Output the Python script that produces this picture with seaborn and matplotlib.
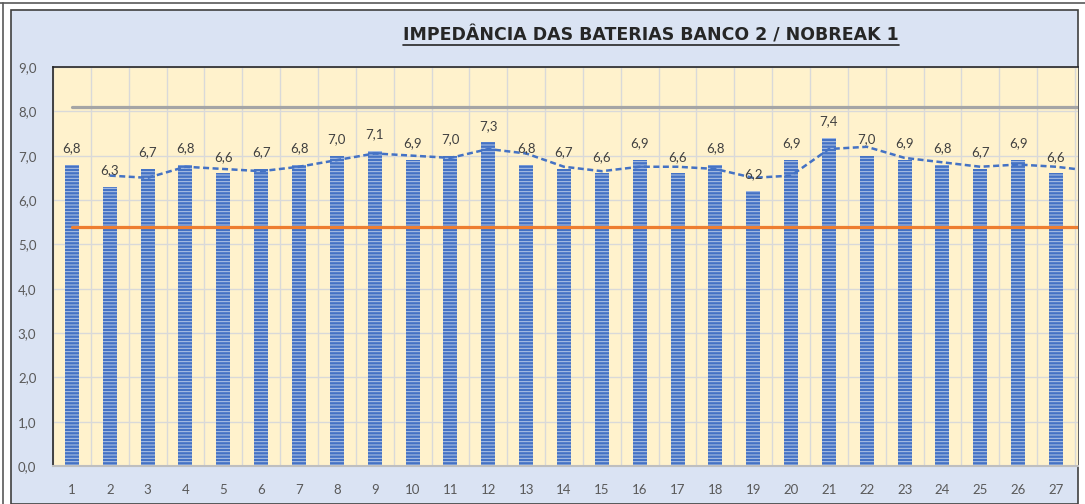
import numpy as np
import pandas as pd
import matplotlib
matplotlib.use("Agg")
import matplotlib.pyplot as plt
import seaborn as sns
from matplotlib.patches import Rectangle
from matplotlib.lines import Line2D

# chart data
baterias = list(range(1, 29))
impedancia = [6.8, 6.3, 6.7, 6.8, 6.6, 6.7, 6.8, 7.0, 7.1, 6.9,
              7.0, 7.3, 6.8, 6.7, 6.6, 6.9, 6.6, 6.8, 6.2, 6.9,
              7.4, 7.0, 6.9, 6.8, 6.7, 6.9, 6.6, 6.7]
limite_superior = 8.1
limite_inferior = 5.4
titulo = "IMPEDÂNCIA DAS BATERIAS BANCO 2 / NOBREAK 1"

df = pd.DataFrame({"bateria": baterias, "impedancia": impedancia})
df["media_movel"] = df["impedancia"].rolling(2).mean()
df["sup"] = limite_superior
df["inf"] = limite_inferior

sns.set_theme(style="white")
plt.rcParams["font.family"] = ["Lato", "DejaVu Sans"]
plt.rcParams["hatch.linewidth"] = 0.7

W, H = 1085, 504
fig = plt.figure(figsize=(W / 100, H / 100), dpi=100, facecolor="white")

# outer chart frame (light blue)
fig.patches.append(Rectangle((11 / W, 0), (1078 - 11) / W, (H - 10) / H,
                             transform=fig.transFigure, facecolor="#dae3f3",
                             edgecolor="#404040", linewidth=1.2, zorder=-5))
fig.lines.append(Line2D([0, 1], [1 - 3 / H, 1 - 3 / H], transform=fig.transFigure,
                        color="#595959", linewidth=1.2, zorder=-4))
fig.lines.append(Line2D([3 / W, 3 / W], [0, 1 - 3 / H], transform=fig.transFigure,
                        color="#595959", linewidth=1.2, zorder=-4))

ax = fig.add_axes([53 / W, (H - 466) / H, (1078 - 53) / W, (466 - 67) / H])
ax.set_facecolor("#fff2cc")

sns.barplot(data=df, x="bateria", y="impedancia", native_scale=True, width=0.37,
            color="#4472c4", edgecolor="#b4c7e7", linewidth=0, hatch="-----",
            saturation=1, ax=ax, zorder=2)

sns.lineplot(data=df, x="bateria", y="sup", color="#a5a5a5", linewidth=2.3, ax=ax, zorder=3)
sns.lineplot(data=df, x="bateria", y="inf", color="#ed7d31", linewidth=2.3, ax=ax, zorder=3)
sns.lineplot(data=df, x="bateria", y="media_movel", color="#4472c4", linewidth=1.8,
             ax=ax, zorder=4)
ax.lines[-1].set_dashes((2.4, 1.4))

for b, v in zip(baterias, impedancia):
    ax.annotate(f"{v:.1f}".replace(".", ","), (b, v), xytext=(0, 12),
                textcoords="offset points", ha="center", va="center",
                fontsize=9.5, color="#404040", annotation_clip=True, zorder=5)

ax.set_xlim(0.5, 27.58)
ax.set_ylim(0, 9)
ax.set_yticks(np.arange(0, 10, 1))
ax.set_yticklabels([f"{t:.1f}".replace(".", ",") for t in np.arange(0, 10, 1)])
ax.set_xticks(baterias[:27])
ax.set_xticklabels([str(b) for b in baterias[:27]])
ax.set_xticks(np.arange(0.5, 28, 1), minor=True)
ax.tick_params(axis="both", which="both", length=0, labelsize=9.5, colors="#595959")
ax.tick_params(axis="y", pad=12)
ax.tick_params(axis="x", pad=13)
ax.grid(True, axis="y", which="major", color="#d9d9d9", linewidth=1, zorder=0)
ax.grid(True, axis="x", which="minor", color="#d9d9d9", linewidth=1, zorder=0)
ax.set_axisbelow(True)
ax.set_xlabel("")
ax.set_ylabel("")
if ax.get_legend():
    ax.get_legend().remove()

ax.spines["left"].set_color("#262626")
ax.spines["left"].set_linewidth(1.2)
ax.spines["top"].set_color("#262626")
ax.spines["top"].set_linewidth(1.2)
ax.spines["bottom"].set_color("#bfbfbf")
ax.spines["bottom"].set_linewidth(1.5)
ax.spines["right"].set_visible(False)

t = fig.text(651 / W, 1 - 35 / H, titulo, ha="center", va="center",
             fontsize=12.5, fontweight="bold", color="#262626", family="DejaVu Sans")
fig.canvas.draw()
bb = t.get_window_extent().transformed(fig.transFigure.inverted())
fig.lines.append(Line2D([bb.x0, bb.x1], [bb.y0 - 1 / H, bb.y0 - 1 / H],
                        transform=fig.transFigure, color="#262626", linewidth=1.2))

fig.savefig("out.png", dpi=100, facecolor="white")
